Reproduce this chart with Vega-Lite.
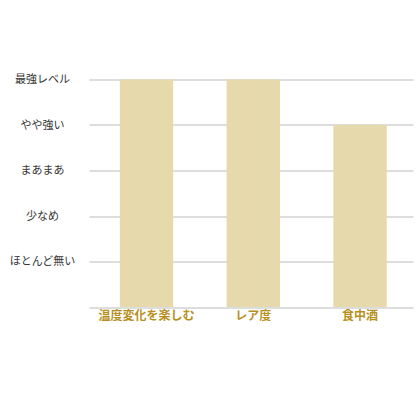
{
  "$schema": "https://vega.github.io/schema/vega-lite/v6.json",
  "autosize": "none",
  "width": 324,
  "height": 227.5,
  "padding": {"left": 89, "top": 79.5, "right": 7, "bottom": 113},
  "background": "white",
  "config": {
    "font": "Noto Sans CJK JP",
    "view": {"stroke": null}
  },
  "data": {
    "values": [
      {"item": "温度変化を楽しむ", "level": 5},
      {"item": "レア度", "level": 5},
      {"item": "食中酒", "level": 4}
    ]
  },
  "mark": {"type": "bar", "color": "#e6d9ab"},
  "encoding": {
    "x": {
      "field": "item",
      "type": "nominal",
      "sort": null,
      "scale": {"paddingInner": 0.5, "paddingOuter": 0.267, "align": 0.54},
      "axis": {
        "title": null,
        "labelAngle": 0,
        "labelFont": "Noto Sans CJK JP",
        "labelFontSize": 12,
        "labelFontWeight": "bold",
        "labelColor": "#b8901e",
        "labelPadding": 3,
        "ticks": false,
        "domain": false
      }
    },
    "y": {
      "field": "level",
      "type": "quantitative",
      "scale": {"domain": [0, 5], "nice": false},
      "axis": {
        "title": null,
        "values": [0, 1, 2, 3, 4, 5],
        "labelExpr": "['', 'ほとんど無い', '少なめ', 'まあまあ', 'やや強い', '最強レベル'][datum.value]",
        "labelAlign": "center",
        "labelPadding": 47,
        "labelDy": -3,
        "labelFontSize": 11,
        "labelColor": "#333333",
        "ticks": false,
        "domain": false,
        "grid": true,
        "gridColor": "#bbbbbb",
        "gridWidth": 1
      }
    }
  }
}
